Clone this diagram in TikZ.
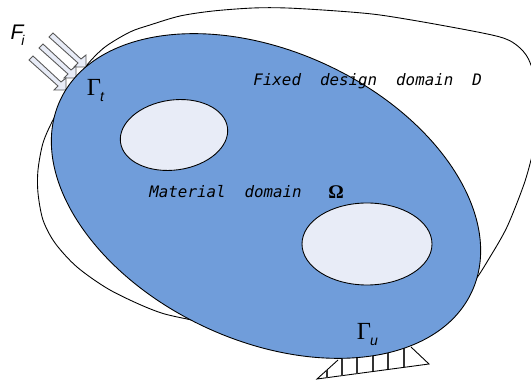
\documentclass[tikz,border=0pt]{standalone}
\usepackage{fontspec}
\setmonofont{DejaVu Sans Mono}
\setsansfont{Liberation Sans}
\newfontfamily\greco{Liberation Serif}
\begin{document}
\begin{tikzpicture}[x=0.02cm, y=-0.02cm, line width=0.5pt, font=\ttfamily\itshape\fontsize{9}{11}\selectfont,
	foro/.style={draw=black, fill=fondo},
	freccia/.style={draw=black!65, fill=fondo, line width=0.5pt},
	tacca/.style={line width=1.1pt, black!80},
	gamma/.style={font=\greco\fontsize{14}{16}\selectfont},
	indice/.style={font=\sffamily\itshape\fontsize{8}{10}\selectfont},
	]
	\definecolor{fondo}{RGB}{232,236,247}
	\definecolor{azzurro}{RGB}{112,157,218}

	\useasboundingbox (0,0) rectangle (531,381);
	\clip (0,0) rectangle (531,381);

	%% -- Dominio fisso D --
	\draw[fill=white] plot[smooth cycle, tension=0.5] coordinates {
		(87,65) (105,47) (130,32) (150,25) (180,16) (213,11) (253,8) (287,8) (337,11) (380,15)
		(440,25) (500,37) (520,48) (531,65) (543,110) (531,160) (523,187) (507,227) (490,257) (473,283)
		(440,320) (300,340) (187,319) (153,310) (110,290) (77,267) (55,243) (43,220) (38,193) (38,170)
		(43,143) (53,120) (70,90)};

	%% -- Vincolo --
	\draw (338,360)--(317,379)--(429,364)--(411,347);
	\foreach \x/\yb/\yt in {327/377.7/370,342/375.7/350,357/373.6/350,373/371.5/350,388/369.5/350,404/367.3/345}
		\draw[tacca] (\x,\yb)--(\x,\yt);

	%% -- Frecce --
	\foreach \dx/\dy in {0/0,-10/11,-20/23}
		\draw[freccia,shift={(\dx,\dy)}] (49,37)--(53,33)--(81,59)--(86,55)--(86,67)--(74,67)--(78,63)--cycle;

	%% -- Dominio materiale --
	\draw[draw=black, fill=azzurro, rotate around={-25:(266,196)}] (266,196) ellipse (227 and 144.5);
	\draw[foro, rotate around={8:(174,135)}] (174,135) ellipse (54 and 35);
	\draw[foro] (367,244) ellipse (65 and 41);

	%% -- Etichette --
	\node[font=\sffamily\itshape\fontsize{12}{14}\selectfont] (fi) at (17,32) {F};
	\node[indice] (fidx) at (23,40) {i};
	\node[gamma] (gt) at (94,87) {Γ};
	\node[indice] (gtidx) at (102,97) {t};
	\node[gamma] (gu) at (364,331) {Γ};
	\node[indice] (guidx) at (374,342) {u};
	\node[anchor=west,inner sep=0pt] (fisso) at (253,81) {Fixed~~design~~domain~~D};
	\node[anchor=west,inner sep=0pt] (mat) at (149,192) {Material~~domain};
	\node[font=\greco\bfseries\fontsize{11}{13}\selectfont] (om) at (336,192) {Ω};
\end{tikzpicture}
\end{document}
